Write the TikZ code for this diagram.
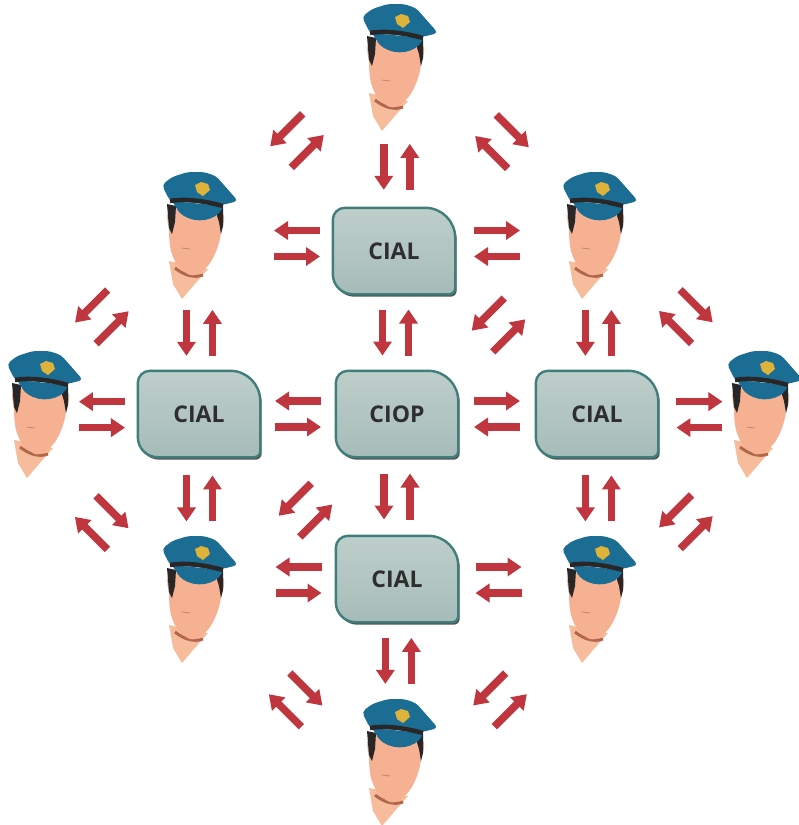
\documentclass[tikz,border=0pt]{standalone}
\usepackage{fontspec}
\setsansfont{Open Sans}
\usepackage{tikz}
\usetikzlibrary{arrows.meta}
\usetikzlibrary{backgrounds}
\definecolor{arrowred}{RGB}{191,54,62}
\definecolor{capblue}{RGB}{27,109,148}
\definecolor{badgegold}{RGB}{221,179,58}
\definecolor{skin}{RGB}{245,177,145}
\definecolor{neckskin}{RGB}{247,188,155}
\definecolor{jaw}{RGB}{178,102,76}
\definecolor{hair}{RGB}{40,38,38}
\definecolor{deskfill}{RGB}{166,188,184}
\definecolor{desktop}{RGB}{190,206,203}
\definecolor{deskedge}{RGB}{63,126,123}
\definecolor{deskshadow}{RGB}{80,84,84}
\tikzset{
    flow/.style = {draw=arrowred,line width=7.5pt,-{Triangle[length=14pt,width=18pt]}},
    flip pair/.style = {yscale=-1},
    wide pair/.style = {yscale=1.15},
    office/.style = {inner sep=0,minimum width=122pt,minimum height=86pt,
        font=\sffamily\bfseries\fontsize{23}{28}\selectfont,text=black!82}
}
\tikzset{
    twoway/.pic = {
        \draw[flow] (-23,13) -- (23,13);
        \draw[flow] (23,-13) -- (-23,-13);
    },
    cop/.pic = {
        % neck, jaw line and face
        \fill[neckskin] (-31,25) -- (-27,48) -- (-18,63) -- (0,42) -- (8,33) -- cycle;
        \draw[jaw,line width=3pt] (-25,32) .. controls (-15,40) and (-5,42) .. (3,39);
        \fill[skin] plot[smooth cycle] coordinates {(-29,-26) (-31,-5) (-29,15) (-22,30)
            (-10,39) (0,37) (10,27) (17,13) (21,-3) (21,-24)};
        \draw[jaw!80,line width=0.8pt] (-18,12) -- (-10,13);
        % hair
        \fill[hair] (-33,-32) -- (-24,-30) -- (-25,-14) -- (-28,-2) -- (-31,-8) -- cycle;
        \fill[hair] (15,-27) -- (23,-29) -- (23,-10) -- (21,-2) -- (19,-14) -- cycle;
        % cap
        \fill[capblue] (-28,-35) -- (23,-30) .. controls (20,-18) and (2,-12) .. (-12,-18)
            .. controls (-20,-22) .. (-28,-35) -- cycle;
        \fill[capblue,rounded corners=4pt] (-30,-35) -- (-38,-51) -- (-28,-59) -- (-12,-64)
            -- (4,-64) -- (16,-60) -- (38,-35) -- (22,-31) -- cycle;
        \draw[hair,line width=4.5pt] (-30,-35) .. controls (-12,-38) and (8,-34) .. (23,-30);
        \fill[badgegold] (-5,-51) -- (1,-54) -- (8,-52) -- (10,-46) -- (3,-40) -- (-3,-44) -- cycle;
    }
}
% outline of an office box, read off the node anchors
\newcommand\deskpath[1]{%
    ([yshift=-12pt]#1.north west) .. controls +(0,6.6pt) and +(-6.6pt,0) .. ([xshift=12pt]#1.north west)
    -- ([xshift=-30pt]#1.north east) .. controls +(16.6pt,0) and +(0,16.6pt) .. ([yshift=-30pt]#1.north east)
    -- ([yshift=6pt]#1.south east) .. controls +(0,-3.3pt) and +(3.3pt,0) .. ([xshift=-6pt]#1.south east)
    -- ([xshift=20pt]#1.south west) .. controls +(-11pt,0) and +(0,-11pt) .. ([yshift=20pt]#1.south west)
    -- cycle}

\begin{document}
\begin{tikzpicture}[x=1pt,y=-1pt]
    \useasboundingbox (0,0) rectangle (799,825);
    % Offices
    \node[office] (TC) at (394,251) {CIAL};
    \node[office] (LC) at (199,414) {CIAL};
    \node[office] (CO) at (397,414) {CIOP};
    \node[office] (RC) at (597,414) {CIAL};
    \node[office] (BC) at (397,579) {CIAL};
    \begin{pgfonlayer}{background}
        \foreach \b in {TC,LC,CO,RC,BC} {
            \fill[deskshadow,transform canvas={shift={(1.5pt,-2.5pt)}}] \deskpath{\b};
            \shade[top color=desktop,bottom color=deskfill] \deskpath{\b};
            \draw[deskedge,line width=2.4pt] \deskpath{\b};
        }
    \end{pgfonlayer}
    % Officers
    \foreach \n/\p in {T/{400,68},TL/{200,236},TR/{600,236},L/{45,415},
            R/{765,415},BL/{200,600},BR/{600,600},B/{400,763}} {
        \coordinate (\n) at (\p);
        \pic at (\n) {cop};
    }
    % Vertical links
    \foreach \a/\b/\p in {T/TC/.54,TC/CO/.5,CO/BC/.5,BC/B/.445,
            TL/LC/.544,LC/BL/.454,TR/RC/.544,RC/BR/.454}
        \path (\a.center) -- (\b.center) pic[pos=\p,rotate=-90] {twoway};
    % Horizontal links
    \foreach \a/\b/\p/\s in {TL/TC/.5/0,L/LC/.37/0,LC/CO/.5/0,BL/BC/.5/9.5}
        \path (\a.center) -- (\b.center) pic[pos=\p,yshift=\s pt] {twoway};
    \foreach \a/\b/\p/\s in {TC/TR/.5/0,CO/RC/.5/0,RC/R/.61/0,BC/BR/.5/9.5}
        \path (\a.center) -- (\b.center) pic[pos=\p,yshift=\s pt,flip pair] {twoway};
    % Diagonal links
    \foreach \a/\b/\p/\dx/\dy in {T/TL/.48/-7/8,TL/L/.53/-16/14,TR/CO/.5/0/0,
            CO/BL/.49/5/-5,R/BR/.534/9/-8,BR/B/.545/9/-11}
        \path (\a.center) -- (\b.center)
            pic[pos=\p,xshift=\dx pt,yshift=\dy pt,rotate=-135,wide pair] {twoway};
    \foreach \a/\b/\p/\dx/\dy in {T/TR/.48/6/7,TR/R/.484/6/6,L/BL/.495/-20/-16,BL/B/.533/-11/-13}
        \path (\a.center) -- (\b.center)
            pic[pos=\p,xshift=\dx pt,yshift=\dy pt,rotate=-45,wide pair,flip pair] {twoway};
\end{tikzpicture}
\end{document}
